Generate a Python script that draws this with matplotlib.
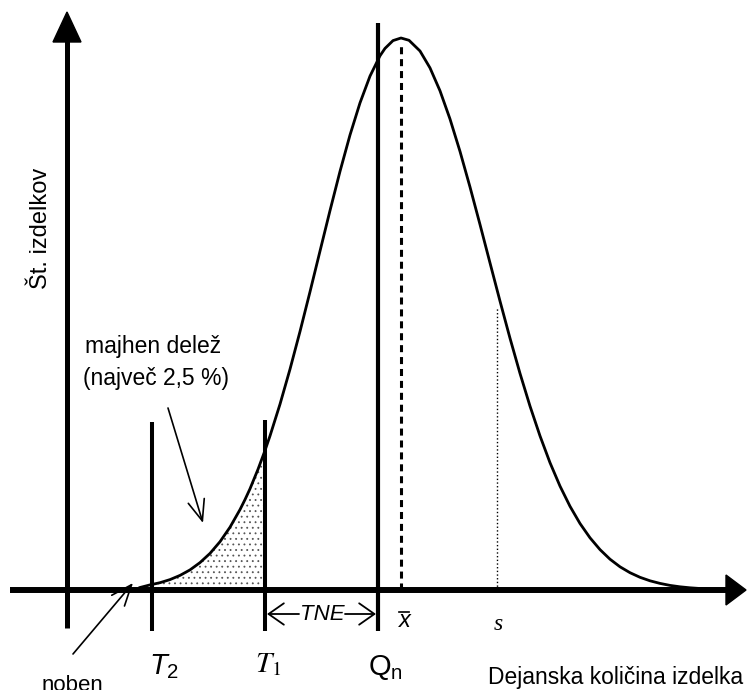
import matplotlib
matplotlib.use("Agg")
import matplotlib.pyplot as plt

plt.rcParams['font.family'] = ['Liberation Sans', 'DejaVu Sans']
plt.rcParams['mathtext.fontset'] = 'custom'
plt.rcParams['mathtext.rm'] = 'Liberation Sans'
plt.rcParams['mathtext.it'] = 'Liberation Sans:italic'
plt.rcParams['hatch.color'] = '#555555'
plt.rcParams['hatch.linewidth'] = 0.6

# krivulja: x (px) in visina nad osjo (px), odcitano s slike
curve_x = [140, 150, 160, 170, 180, 190, 200, 210, 220, 230, 240, 245, 250,
           258, 265, 270, 280, 290, 300, 310, 320, 330, 340, 350, 360, 370,
           380, 385, 393, 401, 409, 420, 430, 440, 450, 460, 470, 480, 490,
           500, 510, 520, 530, 540, 550, 560, 570, 580, 590, 600, 610, 620,
           630, 640, 650, 660, 670, 680, 690, 700, 710, 720]
curve_h = [2.5, 5.1, 7.3, 10.4, 14.6, 20.1, 27.4, 36.6, 48.3, 62.8, 80.4,
           90.4, 101.2, 120.7, 139.5, 154.1, 185.8, 220.8, 258.5, 298.2,
           338.9, 379.4, 418.6, 455.0, 487.1, 513.9, 534.2, 541.6, 549.4,
           552.0, 549.7, 539.0, 522.1, 499.2, 471.0, 438.6, 403.0, 365.5,
           327.1, 288.9, 251.8, 216.6, 183.9, 154.1, 127.3, 103.9, 83.7,
           66.5, 52.2, 40.4, 30.8, 23.2, 17.3, 12.7, 9.2, 6.6, 4.6, 3.2,
           2.2, 1.5, 0.9, 0.5]

x_T2 = 152
x_T1 = 265
x_Qn = 378
x_mean = 401
x_s = 497
h_s = 290

fig = plt.figure(figsize=(7.47, 6.9), dpi=100)
ax = fig.add_axes([0, 0, 1, 1])
ax.set_xlim(0, 747)
ax.set_ylim(-100, 590)
ax.axis('off')

# osencena ploskev med T2 in T1
sx = [x for x in curve_x if x_T2 - 2 <= x <= x_T1]
sh = [h for x, h in zip(curve_x, curve_h) if x_T2 - 2 <= x <= x_T1]
ax.fill_between(sx, 0, sh, facecolor='white', edgecolor='#555555',
                hatch='...', linewidth=0)

ax.plot(curve_x, curve_h, color='black', lw=2.0, solid_joinstyle='round')

# osi
ax.plot([10, 728], [0, 0], color='black', lw=4.3, solid_capstyle='butt')
ax.fill([726, 746, 726], [15, 0, -15], color='black')
ax.plot([67, 67], [-38, 552], color='black', lw=3.6, solid_capstyle='butt')
ax.fill([53, 67, 81], [548, 578, 548], color='black')

# navpicne crte
ax.plot([x_T2, x_T2], [-41, 168], color='black', lw=2.9, solid_capstyle='butt')
ax.plot([x_T1, x_T1], [-41, 170], color='black', lw=2.9, solid_capstyle='butt')
ax.plot([x_Qn, x_Qn], [-41, 567], color='black', lw=3.0, solid_capstyle='butt')
ax.plot([x_mean, x_mean], [0, 545], color='black', lw=2.2, dashes=(2.3, 1.6))
ax.plot([x_s, x_s], [0, h_s - 8], color='black', lw=1.0, ls=':')

# puscice
ax.annotate('', xy=(203, 67), xytext=(168, 182),
            arrowprops=dict(arrowstyle='->,head_length=1.0,head_width=0.4',
                            lw=1.2, color='black', mutation_scale=15,
                            shrinkA=0, shrinkB=0))
ax.annotate('', xy=(133, 7), xytext=(73, -64),
            arrowprops=dict(arrowstyle='->,head_length=1.0,head_width=0.4',
                            lw=1.2, color='black', mutation_scale=15,
                            shrinkA=0, shrinkB=0))
for x0, x1 in [(299, x_T1 + 2), (345, x_Qn - 2)]:
    ax.annotate('', xy=(x1, -24), xytext=(x0, -24),
                arrowprops=dict(arrowstyle='->,head_length=1.0,head_width=0.7',
                                lw=1.3, color='black', mutation_scale=11,
                                shrinkA=0, shrinkB=0))
ax.text(322, -24, 'TNE', style='italic', fontsize=16, ha='center', va='center')

# napisi
ax.text(41, 362, 'Št. izdelkov', rotation=90, fontsize=17, ha='center', va='center')
ax.text(85, 237, 'majhen delež', fontsize=16.5, ha='left', va='baseline')
ax.text(83, 205, '(največ 2,5 %)', fontsize=16.5, ha='left', va='baseline')
ax.text(72, -101, 'noben', fontsize=16, ha='center', va='baseline')

ax.text(149, -84, r'$\mathit{T}_{2}$', fontsize=21, ha='left', va='baseline')
ax.text(255, -82, r'$T_{1}$', math_fontfamily='stix', fontsize=21,
        ha='left', va='baseline')
ax.text(368, -85, r'$\mathrm{Q}_{\mathrm{n}}$', fontsize=21, ha='left', va='baseline')

ax.text(405, -37, 'x', style='italic', fontsize=17, ha='center', va='baseline')
ax.plot([399, 409], [-22, -22], color='black', lw=1.2)
ax.text(498, -40, 's', family='Liberation Serif', style='italic', fontsize=17,
        ha='center', va='baseline')
ax.text(488, -94, 'Dejanska količina izdelka', fontsize=16.5, ha='left', va='baseline')

fig.savefig('out.png', dpi=100)
